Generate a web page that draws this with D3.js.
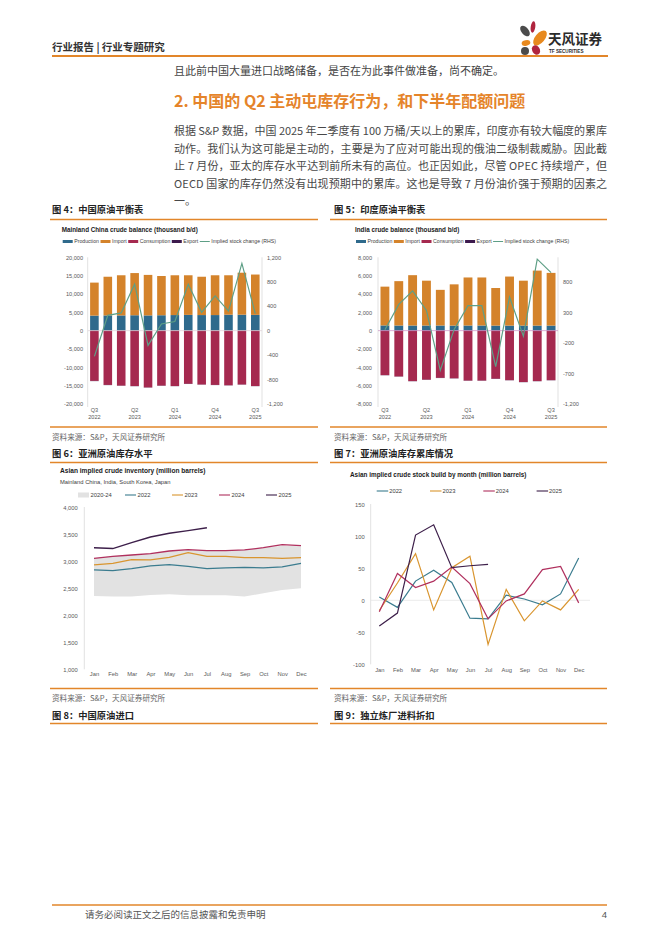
<!DOCTYPE html>
<html>
<head>
<meta charset="utf-8">
<script src="https://cdn.jsdelivr.net/npm/d3@7"></script>
<style>
body { margin: 0; background: #fff; }
svg { display: block; }
</style>
</head>
<body>
<script>
// ---- data ----
var quarters = ["Q3 2022", "Q4 2022", "Q1 2023", "Q2 2023", "Q3 2023", "Q4 2023", "Q1 2024",
                "Q2 2024", "Q3 2024", "Q4 2024", "Q1 2025", "Q2 2025", "Q3 2025"];
var quarterTicks = ["Q3 2022", "Q2 2023", "Q1 2024", "Q4 2024", "Q3 2025"];
var balanceKeys = ["Production", "Import", "Consumption", "Export"];

var chinaProduction = [4100, 4150, 4150, 4200, 4150, 4200, 4250, 4300, 4250, 4250, 4350, 4350, 4300];
var chinaImport = [9000, 10550, 10950, 11500, 11050, 10700, 10850, 10800, 10450, 10850, 10750, 11450, 11000];
var chinaConsumption = [-13700, -14800, -15000, -15100, -15500, -15000, -15100, -14500, -14700, -14800, -14900, -14700, -15100];
var chinaExport = [-60, -50, -40, -50, -40, -50, -40, -50, -40, -40, -50, -40, -40];
var chinaStockChange = [-420, 250, 290, 760, -240, 110, 150, 760, 300, 570, 320, 1100, 280];
var chinaTicks = [-20000, -15000, -10000, -5000, 0, 5000, 10000, 15000, 20000];
var chinaRhsTicks = [-1200, -800, -400, 0, 400, 800, 1200];

var indiaProduction = [570, 560, 560, 560, 560, 550, 560, 560, 550, 550, 550, 550, 550];
var indiaImport = [4230, 4840, 5490, 4890, 3890, 4500, 5240, 5240, 4100, 5350, 4900, 6000, 5750];
var indiaConsumption = [-4850, -5000, -5500, -5350, -5150, -5200, -5450, -5450, -5250, -5400, -5600, -5500, -5400];
var indiaExport = [-20, -20, -20, -20, -20, -20, -20, -20, -20, -20, -20, -20, -20];
var indiaStockChange = [15, 430, 650, 330, -650, 20, 410, 410, -590, 550, -90, 1170, 950];
var indiaTicks = [-8000, -6000, -4000, -2000, 0, 2000, 4000, 6000, 8000];
var indiaRhsTicks = [-1200, -700, -200, 300, 800];

var months = ["Jan", "Feb", "Mar", "Apr", "May", "Jun", "Jul", "Aug", "Sep", "Oct", "Nov", "Dec"];
var yearKeys = ["2022", "2023", "2024", "2025"];

var range2024Low = [2358, 2346, 2346, 2377, 2389, 2370, 2370, 2370, 2346, 2407, 2469, 2500];
var range2024High = [3056, 3093, 3117, 3142, 3191, 3216, 3198, 3198, 3210, 3253, 3290, 3280];
var inventory2022 = [2840, 2827, 2864, 2914, 2938, 2907, 2864, 2877, 2889, 2877, 2895, 2963];
var inventory2023 = [2932, 2963, 3031, 3025, 3074, 3160, 3093, 3093, 3068, 3068, 3056, 3068];
var inventory2024 = [3056, 3093, 3117, 3142, 3191, 3216, 3198, 3198, 3210, 3253, 3309, 3290];
var inventory2025 = [3253, 3235, 3346, 3451, 3519, 3568, 3623];
var inventoryTicks = [1000, 1500, 2000, 2500, 3000, 3500, 4000];

var build2022 = [5, -11, 30, 47, 28, -28, -29, 8, 2, -7, 10, 66];
var build2023 = [-16, 27, 73, -15, 51, 69, -69, 17, -32, -1, -15, 17];
var build2024 = [-18, 42, 20, 30, 52, 26, -29, -1, 10, 48, 53, -4];
var build2025 = [-40, -20, 102, 118, 51, 54, 56];
var buildTicks = [-100, -50, 0, 50, 100, 150];

// ---- page ----
var width = 662;
var height = 936;
var ORANGE = "#e2862a";
var LATIN = '"Liberation Sans", Arial, "Noto Sans CJK SC", sans-serif';
var CJK = '"Noto Sans CJK SC", sans-serif';

var colors = {
	Production: "#2f6a8c", Import: "#d4832b", Consumption: "#a5294f", Export: "#3c1a4d",
	line: "#5e9f86",
	"2022": "#3b7c8f", "2023": "#d9952f", "2024": "#b0305e", "2025": "#3d1f4a", band: "#e2e2e2"
};

var svg = d3.select("body")
	.append("svg")
	.attr("width", width)
	.attr("height", height);

function fmt(d) {
	return d3.format(",")(d).replace("\u2212", "-"); // report uses a plain hyphen
}

function rule(x1, x2, y, w) {
	svg.append("line")
		.attr("x1", x1).attr("x2", x2).attr("y1", y).attr("y2", y)
		.attr("stroke", ORANGE).attr("stroke-width", w || 1.3);
}

function label(x, y, txt, size, opts) {
	opts = opts || {};
	return svg.append("text")
		.attr("x", x).attr("y", y)
		.attr("font-family", opts.family || CJK)
		.attr("font-size", size)
		.attr("font-weight", opts.weight || 400)
		.attr("fill", opts.fill || "#333")
		.attr("text-anchor", opts.anchor || "start")
		.text(txt);
}

function addHeader() {
	label(52, 51, "行业报告 | 行业专题研究", 10.5, {weight: 700, fill: "#333"});
	rule(52, 608, 56, 2);

	// logo: petals + name
	var logo = svg.append("g");
	var petals = [
		{cx: 525, cy: 31, rx: 3.6, ry: 6.2, r: -40, c: "#4b4b4b"},
		{cx: 533, cy: 27, rx: 2.3, ry: 5.8, r: 8, c: "#b0243f"},
		{cx: 540, cy: 38, rx: 4.8, ry: 9, r: 40, c: "#e8891e"},
		{cx: 526, cy: 43, rx: 4.4, ry: 2.8, r: -12, c: "#e8891e"},
		{cx: 536, cy: 50, rx: 3.8, ry: 5, r: -30, c: "#b0243f"}
	];
	logo.selectAll("ellipse").data(petals).enter().append("ellipse")
		.attr("cx", function(d){ return d.cx; })
		.attr("cy", function(d){ return d.cy; })
		.attr("rx", function(d){ return d.rx; })
		.attr("ry", function(d){ return d.ry; })
		.attr("transform", function(d){ return "rotate(" + d.r + "," + d.cx + "," + d.cy + ")"; })
		.attr("fill", function(d){ return d.c; });
	logo.append("circle").attr("cx", 525).attr("cy", 51).attr("r", 4).attr("fill", "#4b4b4b");
	label(548, 44, "天风证券", 13.5, {weight: 700, fill: "#2b2b2b"});
	label(549, 53, "TF SECURITIES", 4.6, {weight: 700, fill: "#2b2b2b", family: LATIN});
}

function addBody() {
	label(174, 75, "且此前中国大量进口战略储备，是否在为此事件做准备，尚不确定。", 11, {fill: "#444"});
	label(174, 107, "2. 中国的 Q2 主动屯库存行为，和下半年配额问题", 16, {weight: 700, fill: "#e5842a"});

	var lines = [
		"根据 S&P 数据，中国 2025 年二季度有 100 万桶/天以上的累库，印度亦有较大幅度的累库",
		"动作。我们认为这可能是主动的，主要是为了应对可能出现的俄油二级制裁威胁。因此截",
		"止 7 月份，亚太的库存水平达到前所未有的高位。也正因如此，尽管 OPEC 持续增产，但",
		"OECD 国家的库存仍然没有出现预期中的累库。这也是导致 7 月份油价强于预期的因素之",
		"一。"
	];
	lines.forEach(function(t, i){
		var el = label(174, 135 + i * 17.5, t, 11, {fill: "#484848"});
		if (i < lines.length - 1) {
			el.attr("textLength", 433).attr("lengthAdjust", "spacing");
		}
	});
}

function addFrames() {
	// captions, rules and sources around the four charts
	var cap = 9.3, src = 7.6;
	label(52, 212.5, "图 4：中国原油平衡表", cap, {weight: 700, fill: "#222"});
	label(334, 212.5, "图 5：印度原油平衡表", cap, {weight: 700, fill: "#222"});
	rule(50, 318, 219.5); rule(330, 607, 219.5);
	rule(50, 318, 427); rule(330, 607, 427);
	label(52, 440, "资料来源：S&P，天风证券研究所", src, {fill: "#666"});
	label(334, 440, "资料来源：S&P，天风证券研究所", src, {fill: "#666"});
	label(52, 456.5, "图 6：亚洲原油库存水平", cap, {weight: 700, fill: "#222"});
	label(334, 456.5, "图 7：亚洲原油库存累库情况", cap, {weight: 700, fill: "#222"});
	rule(50, 318, 462.5); rule(330, 607, 462.5);
	rule(50, 318, 688.5); rule(330, 607, 688.5);
	label(52, 701, "资料来源：S&P，天风证券研究所", src, {fill: "#666"});
	label(334, 701, "资料来源：S&P，天风证券研究所", src, {fill: "#666"});
	label(52, 718.5, "图 8：中国原油进口", cap, {weight: 700, fill: "#222"});
	label(334, 718.5, "图 9：独立炼厂进料折扣", cap, {weight: 700, fill: "#222"});
	rule(50, 318, 723.5); rule(330, 607, 723.5);

	// footer
	rule(52, 607, 905, 1.5);
	label(85, 917.5, "请务必阅读正文之后的信息披露和免责申明", 9.5, {fill: "#555"});
	label(607, 917.5, "4", 9.5, {fill: "#555", anchor: "end", family: LATIN});
}

function styleAxis(sel, size) {
	sel.select(".domain").remove();
	sel.selectAll(".tick text")
		.attr("font-family", LATIN)
		.attr("font-size", size)
		.attr("fill", "#595959");
}

function addLegend(items, x, y, size) {
	// items laid out one after another, width measured from the text
	var cx = x;
	items.forEach(function(it){
		if (it.kind === "line") {
			svg.append("line").attr("x1", cx).attr("x2", cx + 10).attr("y1", y).attr("y2", y)
				.attr("stroke", it.color).attr("stroke-width", 1);
		} else {
			svg.append("rect").attr("x", cx).attr("y", y - 1.5).attr("width", 10).attr("height", 3)
				.attr("fill", it.color);
		}
		var t = label(cx + 11.5, y + size * 0.36, it.name, size, {family: LATIN, fill: "#404040"});
		cx += 11.5 + t.node().getComputedTextLength() + 1.5;
	});
}

function addBalance(cfg) {
	var rows = quarters.map(function(q, i){
		return {q: q, Production: cfg.production[i], Import: cfg.imports[i],
		        Consumption: cfg.consumption[i], Export: cfg.exports[i]};
	});
	var series = d3.stack().keys(balanceKeys).offset(d3.stackOffsetDiverging)(rows);

	var x = d3.scaleBand().domain(quarters).range([cfg.left, cfg.right])
		.paddingInner(0.36).paddingOuter(0.18);
	var y = d3.scaleLinear().domain(d3.extent(cfg.ticks)).range([cfg.bottom, cfg.top]);
	var y2 = d3.scaleLinear().domain([-1200, 1200]).range([cfg.bottom, cfg.top]);

	svg.append("text")
		.attr("x", cfg.titleX).attr("y", 232)
		.attr("font-family", LATIN).attr("font-size", 6.3).attr("font-weight", 700)
		.attr("fill", "#1a1a1a")
		.text(cfg.title);

	addLegend([
		{name: "Production", color: colors.Production},
		{name: "Import", color: colors.Import},
		{name: "Consumption", color: colors.Consumption},
		{name: "Export", color: colors.Export},
		{name: "Implied stock change (RHS)", color: colors.line, kind: "line"}
	], cfg.titleX + 1, 241.5, 5.2);

	// axis lines
	[cfg.left, cfg.right].forEach(function(ax){
		svg.append("line").attr("x1", ax).attr("x2", ax)
			.attr("y1", cfg.top).attr("y2", cfg.bottom + 3)
			.attr("stroke", "#d9d9d9").attr("stroke-width", 0.8);
	});

	svg.append("g").selectAll("g")
		.data(series)
		.enter()
			.append("g")
			.attr("fill", function(d){ return colors[d.key]; })
			.selectAll("rect")
			.data(function(d){ return d; })
			.enter()
				.append("rect")
				.attr("x", function(d){ return x(d.data.q); })
				.attr("width", x.bandwidth())
				.attr("y", function(d){ return y(Math.max(d[0], d[1])); })
				.attr("height", function(d){ return Math.abs(y(d[0]) - y(d[1])); });

	svg.append("line")
		.attr("x1", cfg.left).attr("x2", cfg.right).attr("y1", y(0)).attr("y2", y(0))
		.attr("stroke", cfg.zeroColor).attr("stroke-width", 0.7);

	svg.append("path")
		.datum(cfg.stock)
		.attr("fill", "none")
		.attr("stroke", colors.line)
		.attr("stroke-width", 1.2)
		.attr("d", d3.line()
			.x(function(d, i){ return x(quarters[i]) + x.bandwidth() / 2; })
			.y(function(d){ return y2(d); }));

	svg.append("g")
		.attr("transform", "translate(" + cfg.left + ",0)")
		.call(d3.axisLeft(y).tickValues(cfg.ticks).tickSize(0).tickPadding(cfg.padL).tickFormat(fmt))
		.call(styleAxis, 5.6);

	svg.append("g")
		.attr("transform", "translate(" + cfg.right + ",0)")
		.call(d3.axisRight(y2).tickValues(cfg.rhsTicks).tickSize(0).tickPadding(5).tickFormat(fmt))
		.call(styleAxis, 5.6);

	var xa = svg.append("g")
		.attr("transform", "translate(0," + cfg.bottom + ")")
		.call(d3.axisBottom(x).tickValues(quarterTicks).tickSize(0).tickPadding(4))
		.call(styleAxis, 5.6);
	xa.selectAll(".tick text").each(function(d){
		var parts = d.split(" ");
		var t = d3.select(this).text(null);
		t.append("tspan").attr("x", 0).attr("dy", "0.71em").text(parts[0]);
		t.append("tspan").attr("x", 0).attr("dy", "1.3em").text(parts[1]);
	});
}

function addInventory() {
	var x = d3.scalePoint().domain(months).range([94, 301]);
	var y = d3.scaleLinear().domain([1000, 4000]).range([669.3, 507.3]);

	label(60, 473, "Asian implied crude inventory (million barrels)", 6.6, {family: LATIN, weight: 700, fill: "#1a1a1a"});
	label(60, 483.5, "Mainland China, India, South Korea, Japan", 5.8, {family: LATIN, fill: "#404040"});

	// legend, evenly spaced like the source
	var leg = [{name: "2020-24", color: colors.band, box: true}].concat(yearKeys.map(function(k){
		return {name: k, color: colors[k]};
	}));
	leg.forEach(function(it, i){
		var lx = 78 + i * 47;
		if (it.box) {
			svg.append("rect").attr("x", lx).attr("y", 492.5).attr("width", 11).attr("height", 5).attr("fill", it.color);
		} else {
			svg.append("line").attr("x1", lx).attr("x2", lx + 11).attr("y1", 495).attr("y2", 495)
				.attr("stroke", it.color).attr("stroke-width", 1.1);
		}
		label(lx + 12.5, 497, it.name, 5.8, {family: LATIN, fill: "#404040"});
	});

	svg.append("line").attr("x1", 84.3).attr("x2", 84.3).attr("y1", 507).attr("y2", 669.3)
		.attr("stroke", "#d9d9d9").attr("stroke-width", 0.8);

	svg.append("path")
		.datum(months)
		.attr("fill", colors.band)
		.attr("d", d3.area()
			.x(function(d){ return x(d); })
			.y0(function(d, i){ return y(range2024Low[i]); })
			.y1(function(d, i){ return y(range2024High[i]); }));

	var sets = {"2022": inventory2022, "2023": inventory2023, "2024": inventory2024, "2025": inventory2025};
	var line = d3.line()
		.x(function(d, i){ return x(months[i]); })
		.y(function(d){ return y(d); });
	yearKeys.forEach(function(k){
		svg.append("path").datum(sets[k])
			.attr("fill", "none").attr("stroke", colors[k]).attr("stroke-width", k === "2025" ? 1.5 : 1.3)
			.attr("d", line);
	});

	svg.append("g")
		.attr("transform", "translate(84.3,0)")
		.call(d3.axisLeft(y).tickValues(inventoryTicks).tickSize(0).tickPadding(6.5).tickFormat(fmt))
		.call(styleAxis, 5.8);

	svg.append("g")
		.attr("transform", "translate(0,672)")
		.call(d3.axisBottom(x).tickSize(0).tickPadding(0))
		.call(styleAxis, 5.8);
}

function addBuild() {
	var x = d3.scalePoint().domain(months).range([379.3, 578.7]);
	var y = d3.scaleLinear().domain([-100, 150]).range([664.3, 504.3]);

	label(350, 477, "Asian implied crude stock build by month (million barrels)", 6.4, {family: LATIN, weight: 700, fill: "#1a1a1a"});

	yearKeys.forEach(function(k, i){
		var lx = 376.7 + i * 53.3;
		svg.append("line").attr("x1", lx).attr("x2", lx + 11.5).attr("y1", 491).attr("y2", 491)
			.attr("stroke", colors[k]).attr("stroke-width", 1.1);
		label(lx + 12.5, 493, k, 5.8, {family: LATIN, fill: "#404040"});
	});

	svg.append("line").attr("x1", 370.7).attr("x2", 370.7).attr("y1", 504).attr("y2", 664.3)
		.attr("stroke", "#d9d9d9").attr("stroke-width", 0.8);
	svg.append("line").attr("x1", 370.7).attr("x2", 590).attr("y1", y(0)).attr("y2", y(0))
		.attr("stroke", "#e6e6e6").attr("stroke-width", 0.8);

	var sets = {"2022": build2022, "2023": build2023, "2024": build2024, "2025": build2025};
	var line = d3.line()
		.x(function(d, i){ return x(months[i]); })
		.y(function(d){ return y(d); });
	yearKeys.forEach(function(k){
		svg.append("path").datum(sets[k])
			.attr("fill", "none").attr("stroke", colors[k]).attr("stroke-width", 1.2)
			.attr("d", line);
	});

	svg.append("g")
		.attr("transform", "translate(370.7,0)")
		.call(d3.axisLeft(y).tickValues(buildTicks).tickSize(0).tickPadding(6).tickFormat(fmt))
		.call(styleAxis, 5.8);

	svg.append("g")
		.attr("transform", "translate(0,668)")
		.call(d3.axisBottom(x).tickSize(0).tickPadding(0))
		.call(styleAxis, 5.8);
}

addHeader();
addBody();
addFrames();
addBalance({
	title: "Mainland China crude balance (thousand b/d)", titleX: 61.7,
	left: 87.7, right: 262, top: 257.3, bottom: 404, padL: 4.7,
	production: chinaProduction, imports: chinaImport, consumption: chinaConsumption,
	exports: chinaExport, stock: chinaStockChange,
	ticks: chinaTicks, rhsTicks: chinaRhsTicks, zeroColor: "#dcd0d6"
});
addBalance({
	title: "India crude balance (thousand b/d)", titleX: 355,
	left: 378, right: 558, top: 257.3, bottom: 404, padL: 6,
	production: indiaProduction, imports: indiaImport, consumption: indiaConsumption,
	exports: indiaExport, stock: indiaStockChange,
	ticks: indiaTicks, rhsTicks: indiaRhsTicks, zeroColor: "#c98cc4"
});
addInventory();
addBuild();
</script>
</body>
</html>
